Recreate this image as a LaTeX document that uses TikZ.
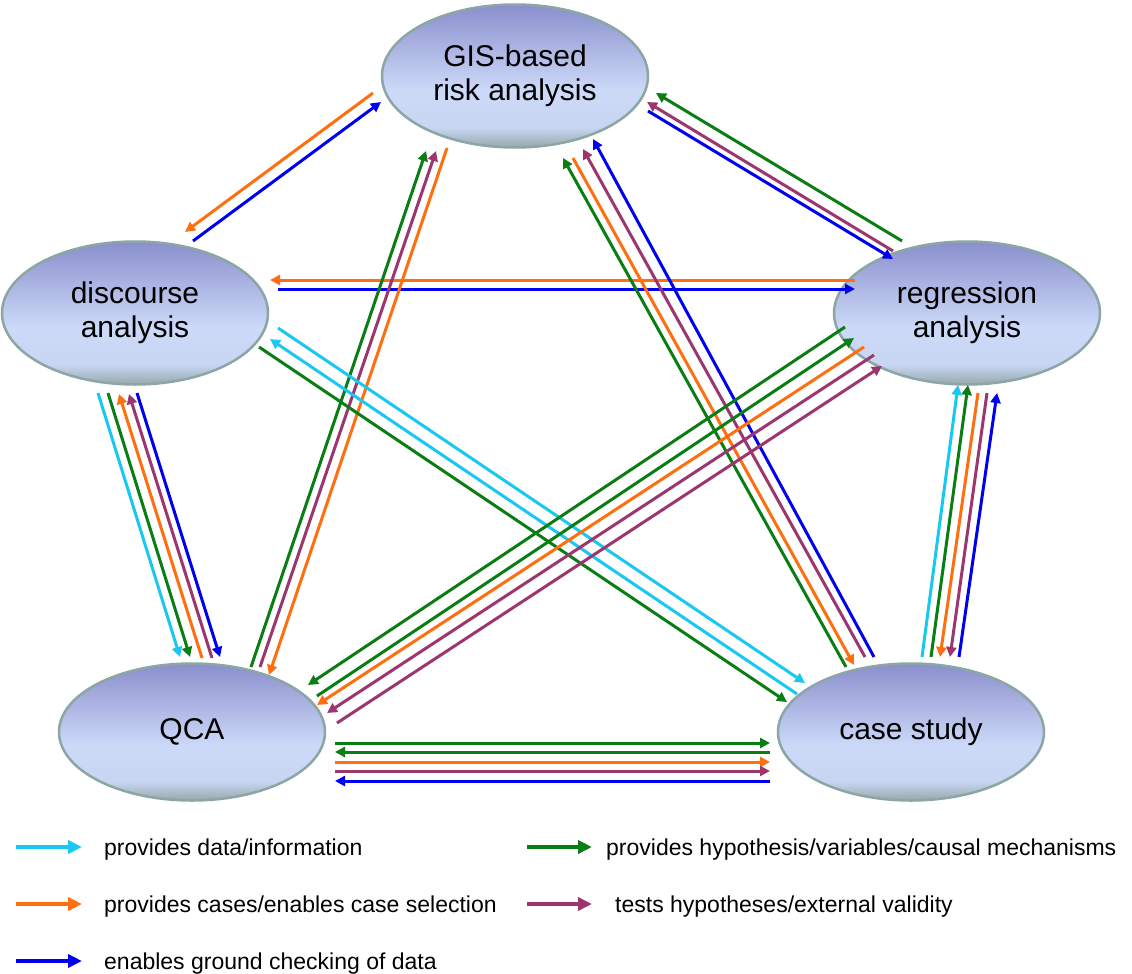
\documentclass[tikz,border=0pt]{standalone}
\usepackage{fontspec}
\setmainfont{Liberation Sans}
\usetikzlibrary{arrows.meta,shapes.geometric}
\definecolor{cyanC}{RGB}{25,200,240}
\definecolor{greenC}{RGB}{10,125,20}
\definecolor{orangeC}{RGB}{255,110,15}
\definecolor{purpleC}{RGB}{155,55,110}
\definecolor{blueC}{RGB}{0,0,240}
\definecolor{edgeC}{RGB}{140,165,165}
\definecolor{shBot}{RGB}{150,168,172}
\definecolor{shLow}{RGB}{200,214,242}
\definecolor{shMid}{RGB}{204,217,248}
\definecolor{shTop}{RGB}{138,143,204}
\pgfdeclareverticalshading{nodeshade}{100bp}{color(0bp)=(shBot); color(25bp)=(shBot); color(32bp)=(shLow); color(45bp)=(shMid); color(75bp)=(shTop); color(100bp)=(shTop)}
\newcommand\lnk[4]{\coordinate (#2-s) at (#3); \coordinate (#2-e) at (#4); \draw[link,#1] (#2-s) -- (#2-e);}
\newcommand\lgd[4]{\coordinate (#2-s) at (#3); \coordinate (#2-e) at (#4); \draw[leg,#1] (#2-s) -- (#2-e);}
\begin{document}
\begin{tikzpicture}[x=1pt,y=-1pt,
 proc/.style={ellipse, draw=edgeC, line width=2.5pt, shade, shading=nodeshade, minimum width=266pt, minimum height=143pt, inner sep=0pt, align=center, font=\fontsize{30}{34}\selectfont},
 link/.style={line width=3pt, -{Triangle[length=10pt,width=10pt]}},
 leg/.style={line width=4pt, -{Triangle[length=14pt,width=13pt]}},
 legtext/.style={anchor=base west, inner sep=0pt, font=\fontsize{23}{27}\selectfont}]
\useasboundingbox (0,0) rectangle (1132,974);
% nodes
\node[proc] (gis) at (515,76) {GIS-based\\risk analysis};
\node[proc] (disc) at (135,313) {discourse\\analysis};
\node[proc] (reg) at (967,313) {regression\\analysis};
\node[proc, minimum height=137pt] (qca) at (192,732) {QCA};
\node[proc, minimum height=137pt] (case) at (911,732) {case study};
% GIS - discourse
\lnk{orangeC}{gd1}{373,93}{185,232}
\lnk{blueC}{gd2}{193,241}{381,102}
% GIS - regression
\lnk{greenC}{gr1}{902,241}{656,93}
\lnk{purpleC}{gr2}{893,251}{647,102}
\lnk{blueC}{gr3}{648,111}{893,259}
% discourse - regression
\lnk{orangeC}{dr1}{855,280}{270,280}
\lnk{blueC}{dr2}{278,289}{855,289}
% discourse - QCA
\lnk{cyanC}{dq1}{98,393}{180,657}
\lnk{greenC}{dq2}{108,393}{190,657}
\lnk{orangeC}{dq3}{202,658}{119,394}
\lnk{purpleC}{dq4}{212,658}{129,394}
\lnk{blueC}{dq5}{137,393}{220,657}
% regression - case study
\lnk{cyanC}{rc1}{922,657}{958,385}
\lnk{greenC}{rc2}{931,657}{968,385}
\lnk{orangeC}{rc3}{978,393}{940,657}
\lnk{purpleC}{rc4}{987,393}{950,657}
\lnk{blueC}{rc5}{959,657}{997,393}
% QCA - case study
\lnk{greenC}{qc1}{335,743}{770,743}
\lnk{greenC}{qc2}{770,752}{335,752}
\lnk{orangeC}{qc3}{335,762}{770,762}
\lnk{purpleC}{qc4}{335,771}{770,771}
\lnk{blueC}{qc5}{770,781}{335,781}
% QCA - GIS
\lnk{greenC}{qg1}{251,667}{426,151}
\lnk{purpleC}{qg2}{260,667}{436,151}
\lnk{orangeC}{qg3}{447,148}{269,675}
% GIS - case study
\lnk{greenC}{gc1}{846,667}{563,158}
\lnk{orangeC}{gc2}{573,158}{854,665}
\lnk{purpleC}{gc3}{865,657}{583,149}
\lnk{blueC}{gc4}{874,657}{593,139}
% discourse - case study
\lnk{cyanC}{dc1}{278,328}{805,683}
\lnk{cyanC}{dc2}{797,694}{270,339}
\lnk{greenC}{dc3}{259,347}{787,702}
% QCA - regression
\lnk{greenC}{qr1}{845,327}{308,685}
\lnk{greenC}{qr2}{317,696}{854,338}
\lnk{orangeC}{qr3}{864,347}{317,705}
\lnk{purpleC}{qr4}{874,355}{327,713}
\lnk{purpleC}{qr5}{337,723}{882,366}
% legend
\lgd{cyanC}{l1}{16,847}{82,847}
\node[legtext] (t1) at (104,855) {provides data/information};
\lgd{orangeC}{l2}{16,904}{82,904}
\node[legtext] (t2) at (104,912) {provides cases/enables case selection};
\lgd{blueC}{l3}{16,961}{82,961}
\node[legtext] (t3) at (104,969) {enables ground checking of data};
\lgd{greenC}{l4}{527,847}{592,847}
\node[legtext] (t4) at (606,855) {provides hypothesis/variables/causal mechanisms};
\lgd{purpleC}{l5}{527,904}{592,904}
\node[legtext] (t5) at (615,912) {tests hypotheses/external validity};
\end{tikzpicture}
\end{document}
